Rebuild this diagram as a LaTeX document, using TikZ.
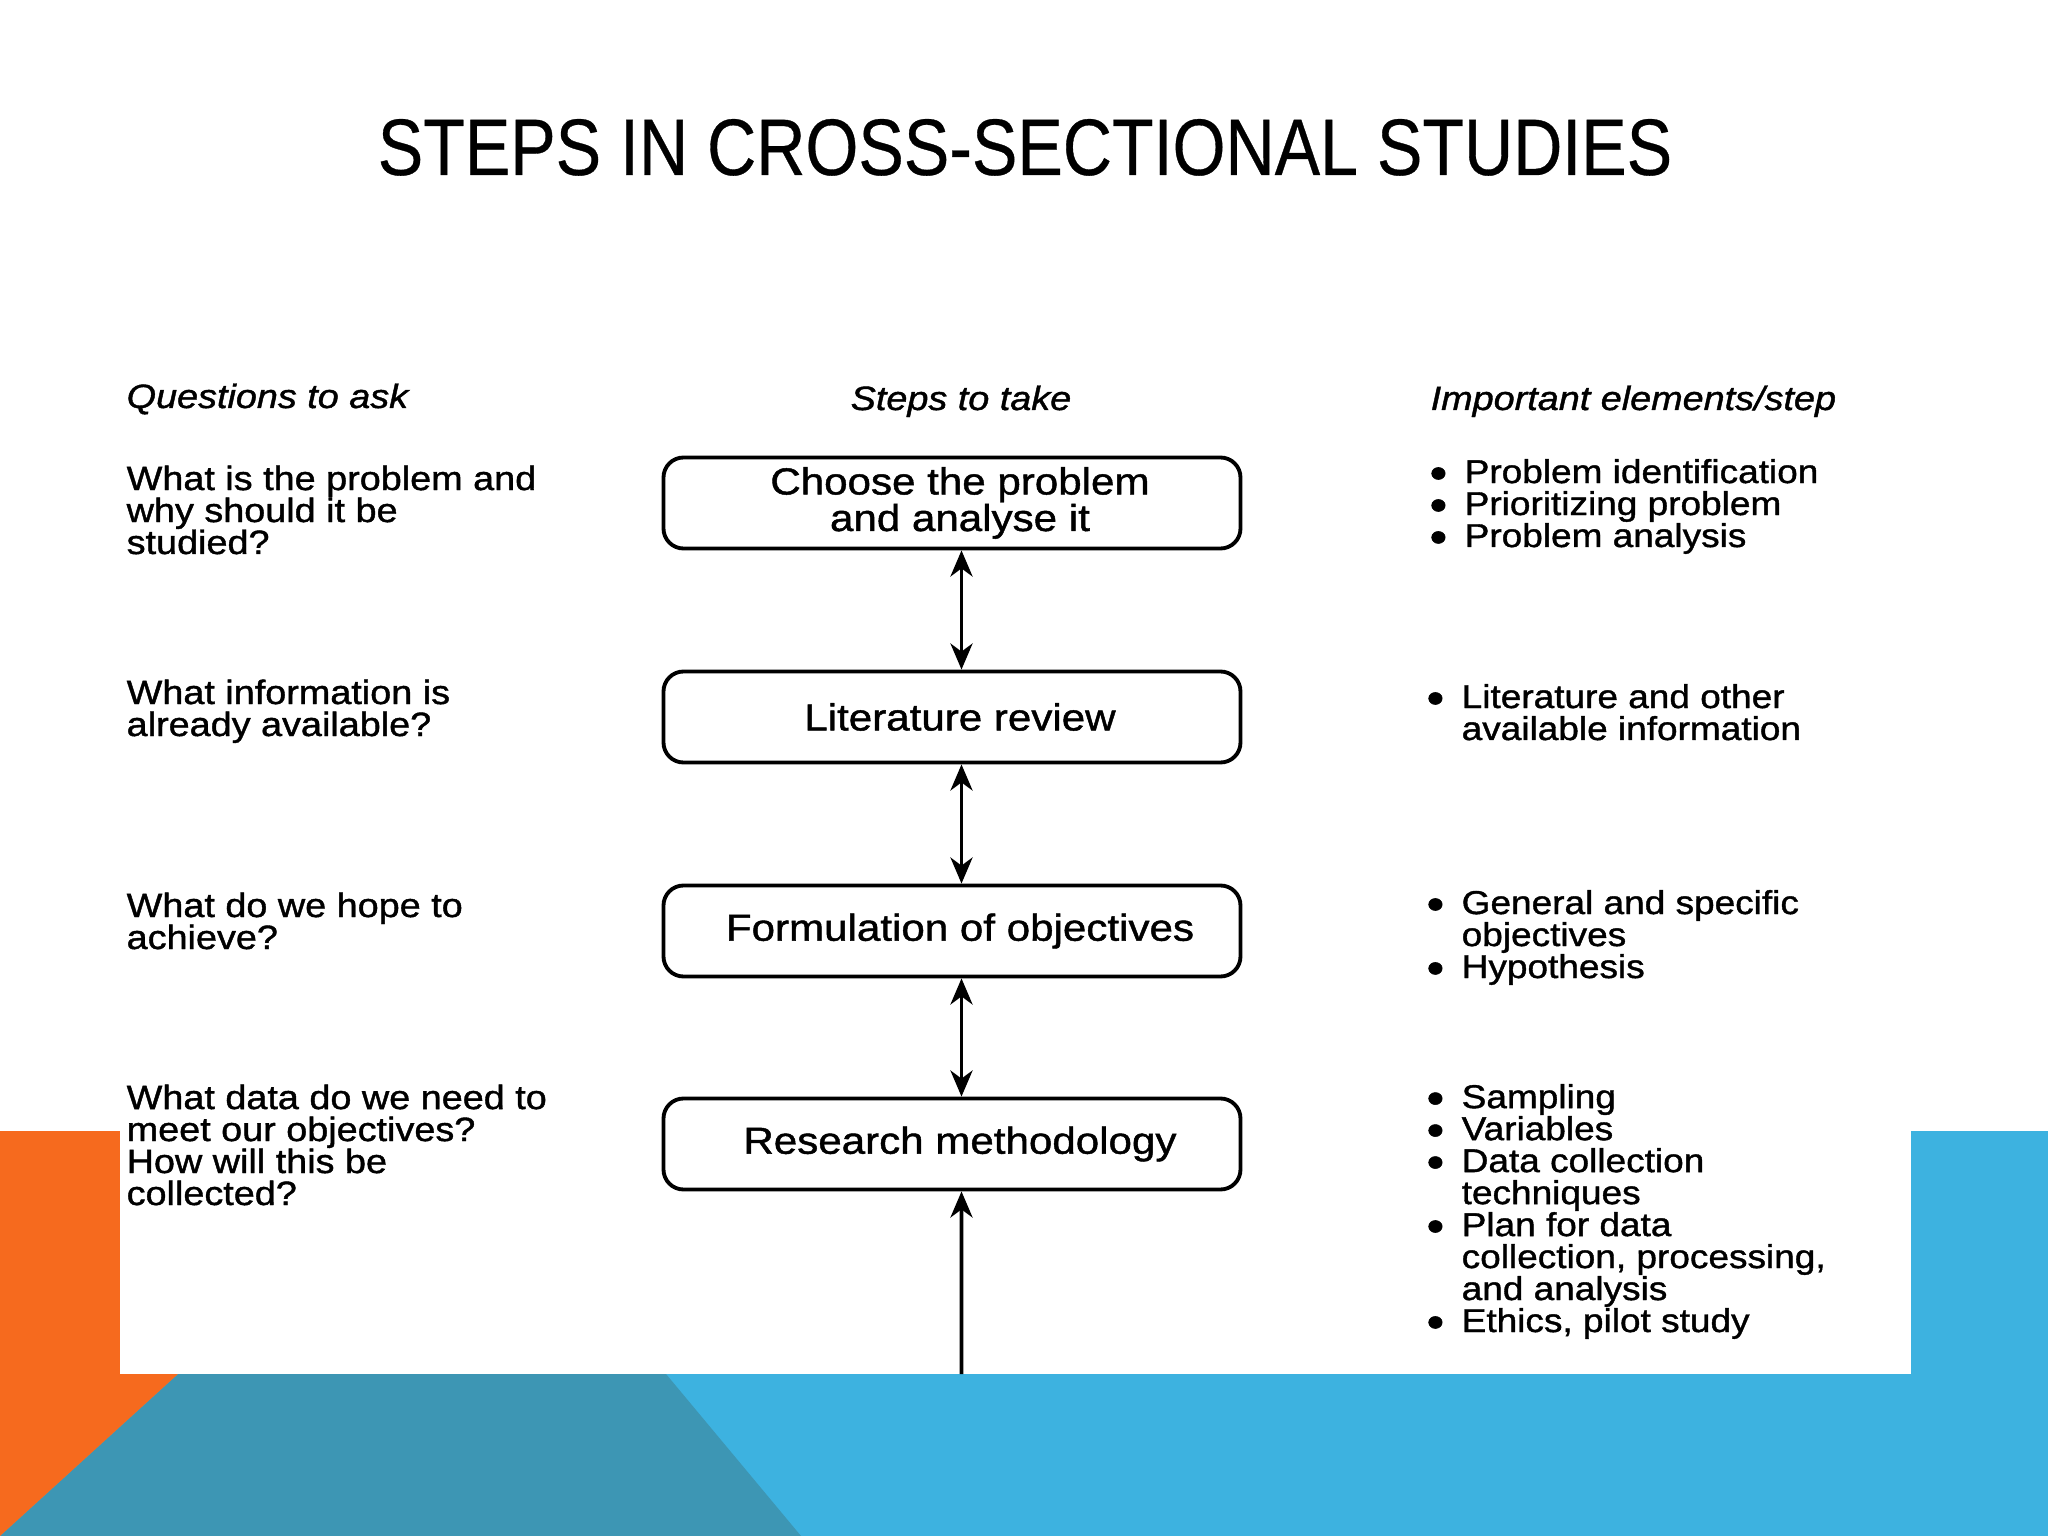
\documentclass[tikz,border=0pt]{standalone}
\usepackage{fontspec}
\setmainfont{Liberation Sans}[FakeStretch=1.12,FakeBold=1.2]
\newfontfamily\titlefont{Liberation Sans}[FakeStretch=0.85,FakeBold=0.4]
\usetikzlibrary{arrows.meta}
\definecolor{slideorange}{RGB}{246,106,30}
\definecolor{slideteal}{RGB}{61,150,180}
\definecolor{slideblue}{RGB}{61,178,224}
\newcommand{\qfont}{\fontsize{9.6}{9.1}\selectfont}
\newcommand{\efont}{\fontsize{9.4}{9.1}\selectfont}
\newcommand{\bfont}{\fontsize{10.7}{10.4}\selectfont}
\newcommand{\bul}{\makebox[2.9mm][l]{\hspace*{-0.6mm}\raisebox{-0.3ex}{\scalebox{1.35}{\textbullet}}}}
\newcommand{\ind}{\hspace*{2.9mm}}
\newcommand{\nudge}{\hspace*{1.6mm}}

\begin{document}
\begin{tikzpicture}[
  stepbox/.style={draw, line width=1.1pt, rounded corners=2mm, minimum width=5.77cm,
    minimum height=0.91cm, align=center, font=\bfont, inner sep=0pt},
  question/.style={anchor=base west, inner sep=0pt, align=left, font=\qfont},
  element/.style={anchor=base west, inner sep=0pt, align=left, font=\efont},
  heading/.style={inner sep=0pt, font=\qfont\itshape},
  link/.style={line width=1.1pt},
  >={Stealth[length=2.6mm,width=2.2mm,inset=0.8mm]}
]
\useasboundingbox (0,0) rectangle (20.48,-15.36);
% slide background
\fill[slideblue] (0,-11.31) rectangle (20.48,-15.36);
\fill[slideteal] (0,-15.36) -- (8.01,-15.36) -- (6.66,-13.74) -- (1.78,-13.74) -- cycle;
\fill[slideorange] (0,-11.31) -- (4.45,-11.31) -- (0,-15.36) -- cycle;
\fill[white] (1.20,-2.5) rectangle (19.11,-13.74);
%
\node (title) at (10.25,-1.75) [anchor=base, inner sep=0pt,
  font=\titlefont\fontsize{22.8}{24}\selectfont] {STEPS IN CROSS-SECTIONAL STUDIES};
%
\node[heading, anchor=base west] (hq) at (1.26,-4.08) {Questions to ask};
\node[heading, anchor=base] (hs) at (9.61,-4.10) {Steps to take};
\node[heading, anchor=base west] (he) at (14.30,-4.10) {Important elements/step};
%
\node[stepbox] (b1) at (9.52,-5.03) {\nudge Choose the problem\\\nudge and analyse it};
\node[stepbox] (b2) at (9.52,-7.17) {\nudge Literature review};
\node[stepbox] (b3) at (9.52,-9.31) {\nudge Formulation of objectives};
\node[stepbox] (b4) at (9.52,-11.44) {\nudge Research methodology};
%
\draw[link,<->] ([xshift=0.95mm]b1.south) -- ([xshift=0.95mm]b2.north);
\draw[link,<->] ([xshift=0.95mm]b2.south) -- ([xshift=0.95mm]b3.north);
\draw[link,<->] ([xshift=0.95mm]b3.south) -- ([xshift=0.95mm]b4.north);
\coordinate (tail) at (9.615,-13.74);
\draw[link,->] (tail) -- ([xshift=0.95mm]b4.south);
%
% base of a multi-line node = baseline of its last line
\node[question] (q1) at (1.26,-5.54) {What is the problem and\\why should it be\\studied?};
\node[question] (q2) at (1.26,-7.36) {What information is\\already available?};
\node[question] (q3) at (1.26,-9.49) {What do we hope to\\achieve?};
\node[question] (q4) at (1.26,-12.05) {What data do we need to\\meet our objectives?\\How will this be\\collected?};
%
\node[element] (e1) at (14.35,-5.47) {\bul Problem identification\\\bul Prioritizing problem\\\bul Problem analysis};
\node[element] (e2) at (14.32,-7.40) {\bul Literature and other\\\ind available information};
\node[element] (e3) at (14.32,-9.78) {\bul General and specific\\\ind objectives\\\bul Hypothesis};
\node[element] (e4) at (14.32,-13.32) {\bul Sampling\\\bul Variables\\\bul Data collection\\\ind techniques\\\bul Plan for data\\\ind collection, processing,\\\ind and analysis\\\bul Ethics, pilot study};
\end{tikzpicture}
\end{document}
